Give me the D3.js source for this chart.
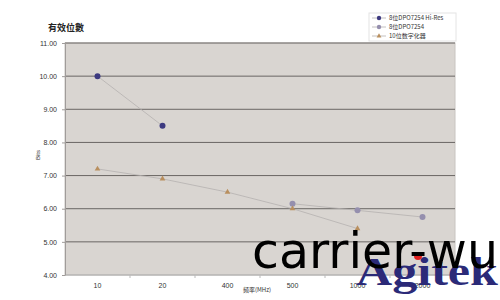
<!DOCTYPE html>
<html>
<head>
<meta charset="utf-8">
<script src="https://cdn.jsdelivr.net/npm/d3@7"></script>
<style>
  body { margin: 0; background: #fff; }
  svg { display: block; }
</style>
</head>
<body>
<svg id="drawing_region"></svg>
<script>
const categories = ["10", "20", "400", "500", "1000", "2000"];
const yTicks = [4, 5, 6, 7, 8, 9, 10, 11];
const hiResValues = [[ "10", 10.0 ], [ "20", 8.5 ]];
const dpoValues = [[ "500", 6.15 ], [ "1000", 5.95 ], [ "2000", 5.75 ]];
const digitizerValues = [[ "10", 7.2 ], [ "20", 6.9 ], [ "400", 6.5 ], [ "500", 6.0 ], [ "1000", 5.4 ]];
const seriesNames = ["8位DPO7254 Hi-Res", "8位DPO7254", "10位数字化器"];

const width = 500, height = 300;
const margin = { top: 43, right: 45, bottom: 25, left: 65 };
const innerW = width - margin.left - margin.right;
const innerH = height - margin.top - margin.bottom;

const svg = d3.select("#drawing_region")
    .attr("width", width)
    .attr("height", height)
    .style("font-family", "Liberation Sans, Arial, sans-serif");

const chart = svg.append("g")
    .attr("transform", `translate(${margin.left}, ${margin.top})`);

const xscale = d3.scaleBand().domain(categories).range([0, innerW]);
const yscale = d3.scaleLinear().domain([4, 11]).range([innerH, 0]);

// plot background
chart.append("rect")
    .attr("width", innerW).attr("height", innerH)
    .attr("fill", "#d9d5d1")
    .attr("stroke", "#c8c4c0");

// gridlines
chart.selectAll(".grid").data(yTicks).join("line")
    .attr("x1", 0).attr("x2", innerW)
    .attr("y1", d => yscale(d)).attr("y2", d => yscale(d))
    .attr("stroke", d => d === 4 ? "#aaa" : "#6a6664")
    .attr("stroke-width", 1);

// y axis
const yaxis = d3.axisLeft(yscale).tickValues(yTicks).tickFormat(d3.format(".2f")).tickSize(3).tickSizeOuter(0);
const yg = chart.append("g").call(yaxis);
yg.select(".domain").attr("stroke", "#a09c9a");
yg.selectAll(".tick line").attr("stroke", "#a09c9a");
yg.selectAll("text").attr("font-size", 7).attr("fill", "#333").attr("dx", -2);

// x axis
const xg = chart.append("g").attr("transform", `translate(0, ${innerH})`)
    .call(d3.axisBottom(xscale).tickSize(0));
xg.select(".domain").remove();
xg.selectAll("text").attr("font-size", 7).attr("fill", "#333").attr("dy", 10);
chart.selectAll(".xtick").data(categories.slice(1)).join("line")
    .attr("x1", d => xscale(d)).attr("x2", d => xscale(d))
    .attr("y1", innerH).attr("y2", innerH + 3)
    .attr("stroke", "#bbb");

// lines + markers
const cx = d => xscale(d[0]) + xscale.bandwidth() / 2;
const line = d3.line().x(cx).y(d => yscale(d[1]));
[hiResValues, dpoValues, digitizerValues].forEach(s => {
    chart.append("path").attr("d", line(s))
        .attr("fill", "none").attr("stroke", "#b5b1b0").attr("stroke-width", 0.8);
});
chart.selectAll(".hr").data(hiResValues).join("circle")
    .attr("cx", cx).attr("cy", d => yscale(d[1])).attr("r", 3)
    .attr("fill", "#3d3a80");
chart.selectAll(".dpo").data(dpoValues).join("circle")
    .attr("cx", cx).attr("cy", d => yscale(d[1])).attr("r", 3)
    .attr("fill", "#958fae");
const tri = d3.symbol().type(d3.symbolTriangle).size(14);
chart.selectAll(".dg").data(digitizerValues).join("path")
    .attr("d", tri)
    .attr("transform", d => `translate(${cx(d)}, ${yscale(d[1])})`)
    .attr("fill", "#b98f5e");

// titles
svg.append("text").attr("x", 48).attr("y", 31)
    .attr("font-size", 9).attr("font-weight", "bold").attr("fill", "#222")
    .style("font-family", "Noto Sans CJK TC, sans-serif")
    .text("有效位數");
svg.append("text").attr("transform", "translate(40, 155) rotate(-90)")
    .attr("text-anchor", "middle").attr("font-size", 6).attr("fill", "#333").text("Bits");
svg.append("text").attr("x", 257).attr("y", 292)
    .attr("text-anchor", "middle").attr("font-size", 6).attr("fill", "#333")
    .style("font-family", "Noto Sans CJK SC, sans-serif")
    .text("频率(MHz)");

// legend
const lg = svg.append("g").attr("transform", "translate(369, 13)");
lg.append("rect").attr("width", 87).attr("height", 28).attr("fill", "#fff").attr("stroke", "#e4e4e4");
const markerColors = ["#3d3a80", "#958fae", "#b98f5e"];
seriesNames.forEach((name, i) => {
    const y = 5 + i * 9;
    lg.append("line").attr("x1", 3).attr("x2", 17).attr("y1", y).attr("y2", y)
        .attr("stroke", "#b5b1b0").attr("stroke-width", 0.8);
    if (i < 2) {
        lg.append("circle").attr("cx", 10).attr("cy", y).attr("r", 2.2).attr("fill", markerColors[i]);
    } else {
        lg.append("path").attr("d", d3.symbol().type(d3.symbolTriangle).size(10))
            .attr("transform", `translate(10, ${y})`).attr("fill", markerColors[i]);
    }
    lg.append("text").attr("x", 20).attr("y", y + 2.2).attr("font-size", 6).attr("fill", "#333")
        .style("font-family", "Noto Sans CJK SC, sans-serif").text(name);
});

// watermarks
svg.append("text").attr("x", 356).attr("y", 285)
    .attr("font-size", 40).attr("font-weight", "bold").attr("fill", "#2b2a78")
    .attr("textLength", 142).attr("lengthAdjust", "spacingAndGlyphs")
    .style("font-family", "Liberation Serif, serif").text("Agitek");
svg.append("circle").attr("cx", 418).attr("cy", 256).attr("r", 4).attr("fill", "#e02020");
svg.append("text").attr("x", 252).attr("y", 268)
    .attr("font-size", 49).attr("fill", "#000")
    .style("font-family", "DejaVu Sans, sans-serif").text("carrier-wu");
</script>
</body>
</html>
